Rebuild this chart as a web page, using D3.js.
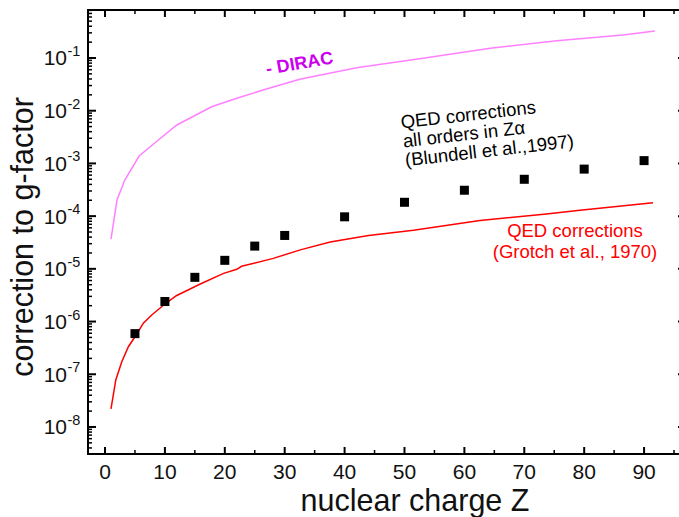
<!DOCTYPE html>
<html>
<head>
<meta charset="utf-8">
<script src="https://cdn.jsdelivr.net/npm/d3@7"></script>
<style>
	body { margin: 0; background: #fff; }
	svg { display: block; font-family: "Liberation Sans", Arial, sans-serif; }
</style>
</head>
<body>
<svg id="chart" width="679" height="517"></svg>
<script>
// Blundell et al. 1997, all orders in Z alpha (squares)
const blundellZ = [5, 10, 15, 20, 25, 30, 40, 50, 60, 70, 80, 90];
const blundellVal = [5.9e-7, 2.4e-6, 6.9e-6, 1.45e-5, 2.7e-5, 4.3e-5, 9.7e-5, 1.83e-4, 3.1e-4, 5.0e-4, 7.8e-4, 1.13e-3];

// Grotch et al. 1970 (red line)
const grotchZ = [1, 1.8, 2.8, 3.9, 5.2, 6.4, 7.8, 10, 11.9, 15.9, 19.8, 22, 22.8, 28.1, 32.6, 37.6, 44, 51.5, 62.6, 73.7, 79.3, 91.5];
const grotchVal = [2.2e-8, 7.8e-8, 1.73e-7, 3.33e-7, 5.56e-7, 9.3e-7, 1.33e-6, 2.15e-6, 3.09e-6, 5.15e-6, 8.2e-6, 9.8e-6, 1.12e-5, 1.58e-5, 2.29e-5, 3.24e-5, 4.3e-5, 5.4e-5, 8.3e-5, 1.10e-4, 1.29e-4, 1.80e-4];

// Dirac value (magenta line)
const diracZ = [1, 2, 3.3, 5.7, 8.9, 12, 17.8, 22, 26.4, 32.5, 42, 53.1, 64.3, 75.4, 86.5, 91.8];
const diracVal = [3.68e-5, 2.02e-4, 4.84e-4, 1.38e-3, 2.78e-3, 5.36e-3, 1.19e-2, 1.72e-2, 2.47e-2, 3.94e-2, 6.55e-2, 9.86e-2, 0.153, 0.213, 0.273, 0.325];

const xTicks = [0, 10, 20, 30, 40, 50, 60, 70, 80, 90];
const xMinorTicks = [5, 15, 25, 35, 45, 55, 65, 75, 85, 95];
const yExponents = [-8, -7, -6, -5, -4, -3, -2, -1];

const svg = d3.select('#chart');
const pLeft = 88, pRight = 686, pTop = 10, pBottom = 454;

const x = d3.scaleLinear().domain([-2.84, 97.0]).range([pLeft, pRight]);
const y = d3.scaleLog().domain([3.07e-9, 0.814]).range([pBottom, pTop]);

const yMajor = yExponents.map((e) => Math.pow(10, e));
const yMinor = y.ticks().filter((v) => Math.abs(Math.log10(v) - Math.round(Math.log10(v))) > 1e-6);

// frame + ticks
const axisG = svg.append('g').attr('class', 'axes');

function tickLines(sel, data, cls, fn) {
	sel.selectAll(`line.${cls}`)
		.data(data)
		.enter()
		.append('line')
		.attr('class', cls)
		.each(function (d) {
			const a = fn(d);
			d3.select(this).attr('x1', a[0]).attr('y1', a[1]).attr('x2', a[2]).attr('y2', a[3]);
		})
		.attr('stroke', '#000')
		.attr('stroke-width', cls.indexOf('minor') >= 0 ? 1.5 : 2);
}

tickLines(axisG, xTicks, 'xb-major', (d) => [x(d), pBottom, x(d), pBottom - 7]);
tickLines(axisG, xMinorTicks, 'xb-minor', (d) => [x(d), pBottom, x(d), pBottom - 4]);
tickLines(axisG, xTicks, 'xt-major', (d) => [x(d), pTop, x(d), pTop + 7]);
tickLines(axisG, xMinorTicks, 'xt-minor', (d) => [x(d), pTop, x(d), pTop + 4]);
tickLines(axisG, yMajor, 'yl-major', (d) => [pLeft, y(d), pLeft + 8, y(d)]);
tickLines(axisG, yMinor, 'yl-minor', (d) => [pLeft, y(d), pLeft + 4, y(d)]);
tickLines(axisG, yMajor, 'yr-major', (d) => [pRight, y(d), pRight - 8, y(d)]);
tickLines(axisG, yMinor, 'yr-minor', (d) => [pRight, y(d), pRight - 4, y(d)]);

axisG.append('rect')
	.attr('x', pLeft)
	.attr('y', pTop)
	.attr('width', pRight - pLeft)
	.attr('height', pBottom - pTop)
	.attr('fill', 'none')
	.attr('stroke', '#000')
	.attr('stroke-width', 2);

// x tick labels
svg.append('g')
	.selectAll('text')
	.data(xTicks)
	.enter()
	.append('text')
	.attr('x', (d) => x(d))
	.attr('y', 479)
	.attr('text-anchor', 'middle')
	.attr('font-size', 21)
	.attr('fill', '#111')
	.text((d) => d);

// y tick labels, 10 with superscript exponent
const yLab = svg.append('g')
	.selectAll('g')
	.data(yExponents)
	.enter()
	.append('g')
	.attr('transform', (e) => `translate(0,${y(Math.pow(10, e))})`);
yLab.append('text')
	.attr('x', 67)
	.attr('y', 7.5)
	.attr('text-anchor', 'end')
	.attr('font-size', 21)
	.attr('fill', '#111')
	.text('10');
yLab.append('text')
	.attr('x', 67.5)
	.attr('y', -2)
	.attr('font-size', 14.5)
	.attr('fill', '#111')
	.text((e) => e);

// axis titles
svg.append('text')
	.attr('x', 415)
	.attr('y', 511)
	.attr('text-anchor', 'middle')
	.attr('font-size', 30.5)
	.attr('fill', '#111')
	.text('nuclear charge Z');
svg.append('text')
	.attr('transform', 'translate(33,237) rotate(-90)')
	.attr('text-anchor', 'middle')
	.attr('font-size', 30.5)
	.attr('fill', '#111')
	.text('correction to g-factor');

// lines
const line = d3.line()
	.x((d) => x(d[0]))
	.y((d) => y(d[1]));

const plot = svg.append('g').attr('class', 'plot');
plot.append('path')
	.datum(d3.zip(diracZ, diracVal))
	.attr('d', line)
	.attr('fill', 'none')
	.attr('stroke', '#ff80ff')
	.attr('stroke-width', 1.5);
plot.append('path')
	.datum(d3.zip(grotchZ, grotchVal))
	.attr('d', line)
	.attr('fill', 'none')
	.attr('stroke', '#ff0000')
	.attr('stroke-width', 1.5);

const sq = 9;
plot.selectAll('rect.pt')
	.data(d3.zip(blundellZ, blundellVal))
	.enter()
	.append('rect')
	.attr('class', 'pt')
	.attr('x', (d) => x(d[0]) - sq / 2)
	.attr('y', (d) => y(d[1]) - sq / 2)
	.attr('width', sq)
	.attr('height', sq)
	.attr('fill', '#000');

// annotations
svg.append('text')
	.attr('transform', 'translate(267,75) rotate(-10)')
	.attr('font-size', 18)
	.attr('font-weight', 'bold')
	.attr('fill', '#cc00ee')
	.text('- DIRAC');

const blk = svg.append('g').attr('transform', 'translate(401.5,128.5) rotate(-6.5)');
['QED corrections', 'all orders in Z\u03b1', '(Blundell et al.,1997)'].forEach((t, i) => {
	blk.append('text')
		.attr('x', 0)
		.attr('y', i * 19)
		.attr('font-size', 18.5)
		.attr('fill', '#000')
		.text(t);
});

['QED corrections', '(Grotch et al., 1970)'].forEach((t, i) => {
	svg.append('text')
		.attr('x', 575)
		.attr('y', 237 + i * 21)
		.attr('text-anchor', 'middle')
		.attr('font-size', 18.5)
		.attr('fill', '#ff0000')
		.text(t);
});
</script>
</body>
</html>
